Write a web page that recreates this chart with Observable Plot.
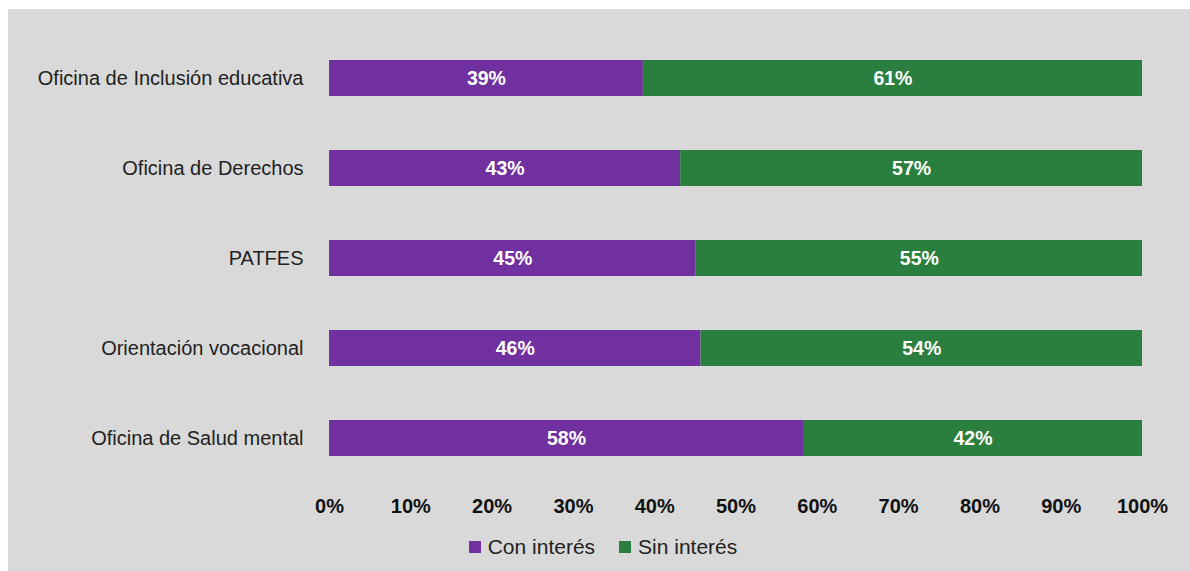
<!DOCTYPE html>
<html>
<head>
<meta charset="utf-8">
<script src="https://cdn.jsdelivr.net/npm/d3@7"></script>
<script src="https://cdn.jsdelivr.net/npm/@observablehq/plot@0.6"></script>
<style>
  html, body { margin: 0; padding: 0; background: #ffffff; }
  #panel {
    position: absolute; left: 8px; top: 9px; width: 1182px; height: 562px;
    background: #d9d9d9; font-family: "Liberation Sans", Arial, sans-serif;
  }
  #legend {
    display: flex; justify-content: center; align-items: center;
    margin-top: 11px; height: 24px; font-size: 21px; color: #222;
    padding-left: 8px;
  }
  .item { display: flex; align-items: center; margin: 0 12px; }
  .sw { width: 12px; height: 12px; margin-right: 7px; }
</style>
</head>
<body>
<div id="panel"></div>
<script>
const categories = [
  "Oficina de Inclusión educativa",
  "Oficina de Derechos",
  "PATFES",
  "Orientación vocacional",
  "Oficina de Salud mental"
];
const series = ["Con interés", "Sin interés"];
const conInteres = [38.6, 43.2, 45.1, 45.7, 58.3];
const sinInteres = [61.4, 56.8, 54.9, 54.3, 41.7];
const colors = ["#7030A0", "#2A7F3E"];
const xTicks = [0, 10, 20, 30, 40, 50, 60, 70, 80, 90, 100];

const data = [];
categories.forEach((c, i) => data.push({cat: c, series: series[0], value: conInteres[i]}));
categories.forEach((c, i) => data.push({cat: c, series: series[1], value: sinInteres[i]}));

const chart = Plot.plot({
  width: 1182,
  height: 515,
  marginLeft: 321,
  marginRight: 48,
  marginTop: 24,
  marginBottom: 40,
  style: {background: "transparent", fontFamily: "'Liberation Sans', Arial, sans-serif"},
  x: {domain: [0, 100]},
  y: {domain: categories, paddingInner: 0.6, paddingOuter: 0.3},
  color: {domain: series, range: colors},
  marks: [
    Plot.barX(data, Plot.stackX({x: "value", y: "cat", z: "series", fill: "series", order: null})),
    Plot.text(data, Plot.stackX({
      x: "value", y: "cat", z: "series", order: null,
      text: d => Math.round(d.value) + "%",
      fill: "white", fontWeight: "bold", fontSize: 19.5
    })),
    Plot.axisX({ticks: xTicks, tickFormat: d => d + "%", tickSize: 0, tickPadding: 14,
      fontSize: 20, fontWeight: "bold", fill: "#111", label: null}),
    Plot.axisY({tickSize: 0, tickPadding: 26, fontSize: 20, fill: "#222", label: null})
  ]
});

const panel = document.getElementById("panel");
panel.appendChild(chart);

const legend = document.createElement("div");
legend.id = "legend";
series.forEach((s, i) => {
  const item = document.createElement("div");
  item.className = "item";
  const sw = document.createElement("div");
  sw.className = "sw";
  sw.style.background = colors[i];
  const t = document.createElement("span");
  t.textContent = s;
  item.appendChild(sw);
  item.appendChild(t);
  legend.appendChild(item);
});
panel.appendChild(legend);
</script>
</body>
</html>
